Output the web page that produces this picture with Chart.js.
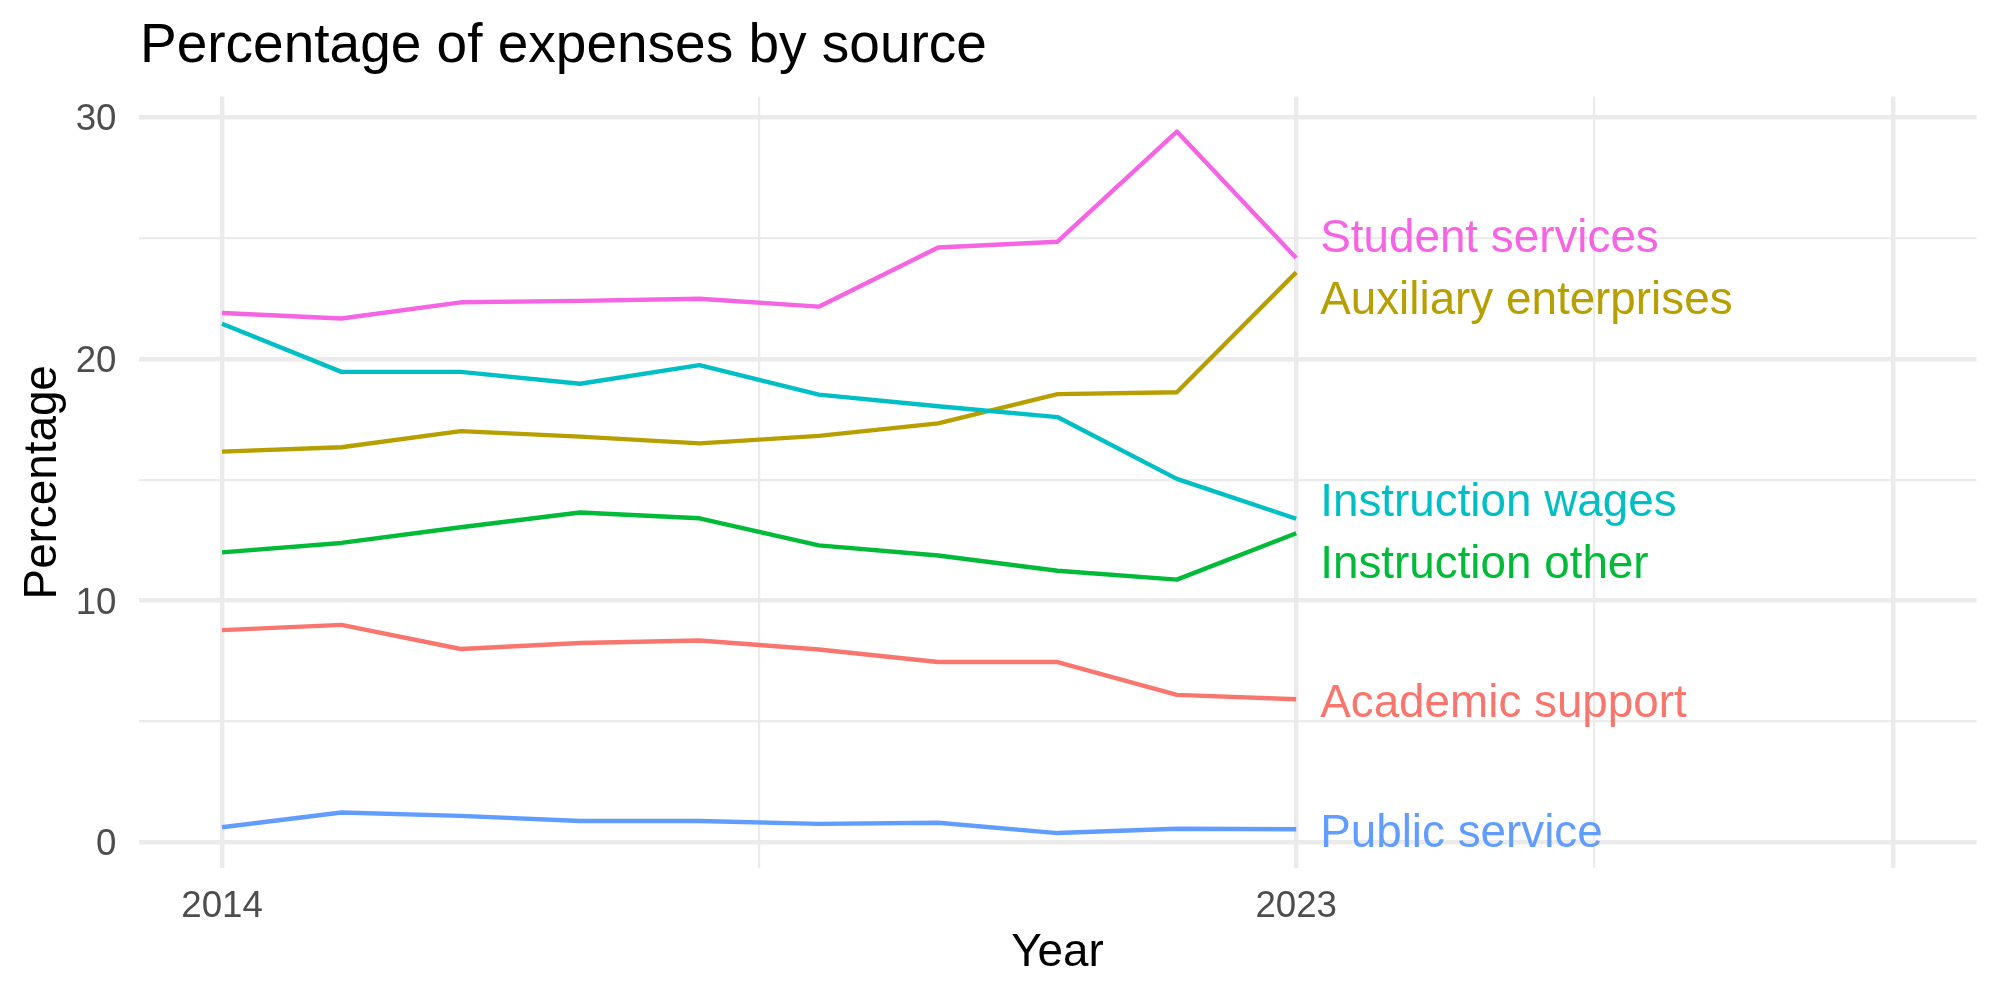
<!DOCTYPE html>
<html lang="en">
<head>
    <meta charset="UTF-8">
    <title>Percentage of expenses by source</title>
    <script src="https://cdn.jsdelivr.net/npm/chart.js"></script>
    <style>
        body {
            margin: 0;
            background: #ffffff;
        }
        .chart-box {
            width: 2000px;
            height: 1000px;
        }
    </style>
</head>
<body>
    <div class="chart-box">
        <canvas id="expenseChart" width="2000" height="1000"></canvas>
    </div>

    <script>
        // Data
        const chartTitle = 'Percentage of expenses by source';
        const years = [2014, 2015, 2016, 2017, 2018, 2019, 2020, 2021, 2022, 2023];
        const seriesNames = ['Academic support', 'Auxiliary enterprises', 'Instruction other',
                             'Instruction wages', 'Public service', 'Student services'];
        const academicSupport = [8.77, 8.99, 7.99, 8.24, 8.34, 7.97, 7.45, 7.45, 6.09, 5.91];
        const auxiliaryEnterprises = [16.16, 16.34, 17.01, 16.78, 16.50, 16.81, 17.33, 18.54, 18.62, 23.58];
        const instructionOther = [11.99, 12.38, 13.03, 13.64, 13.40, 12.28, 11.86, 11.23, 10.86, 12.78];
        const instructionWages = [21.45, 19.46, 19.46, 18.97, 19.74, 18.52, 18.04, 17.59, 15.03, 13.38];
        const publicService = [0.61, 1.22, 1.08, 0.87, 0.87, 0.75, 0.80, 0.37, 0.55, 0.53];
        const studentServices = [21.90, 21.67, 22.34, 22.40, 22.49, 22.16, 24.61, 24.85, 29.41, 24.17];
        // where each end label sits (in percentage units, after repelling)
        const labelPos = [5.87, 22.53, 11.59, 14.16, 0.48, 25.10];
        const xMajorTicks = [2014, 2023, 2028];
        const xMinorTicks = [2018.5, 2025.5];
        const xTickLabels = ['2014', '2023', ''];

        const seriesValues = [academicSupport, auxiliaryEnterprises, instructionOther,
                              instructionWages, publicService, studentServices];
        const colors = ['#F8766D', '#B79F00', '#00BA38', '#00BFC4', '#619CFF', '#F564E3'];
        const FONT = '"Liberation Sans", Arial, Helvetica, sans-serif';

        const datasets = seriesNames.map((name, i) => ({
            label: name,
            data: years.map((yr, j) => ({ x: yr, y: seriesValues[i][j] })),
            borderColor: colors[i],
            backgroundColor: colors[i],
            borderWidth: 4.4,
            borderJoinStyle: 'round',
            pointRadius: 0,
            tension: 0,
            order: seriesNames.length - i   // later groups on top, like ggplot
        }));

        // title, axis titles and end labels
        const textLayer = {
            id: 'textLayer',
            afterDraw(chart) {
                const ctx = chart.ctx;
                const area = chart.chartArea;
                const xs = chart.scales.x;
                const ys = chart.scales.y;
                ctx.save();
                ctx.textBaseline = 'alphabetic';

                ctx.fillStyle = '#000000';
                ctx.font = '55px ' + FONT;
                ctx.textAlign = 'left';
                ctx.fillText(chartTitle, 140, 62);

                ctx.font = '45.8px ' + FONT;
                ctx.textAlign = 'center';
                ctx.fillText('Year', (area.left + area.right) / 2, 966);

                ctx.save();
                ctx.translate(55.5, (area.top + area.bottom) / 2);
                ctx.rotate(-Math.PI / 2);
                ctx.fillText('Percentage', 0, 0);
                ctx.restore();

                // labels at the end of each line
                ctx.textAlign = 'left';
                const xEnd = xs.getPixelForValue(years[years.length - 1]) + 24;
                seriesNames.forEach((name, i) => {
                    ctx.fillStyle = colors[i];
                    ctx.fillText(name, xEnd, ys.getPixelForValue(labelPos[i]) + 16.4);
                });
                ctx.restore();
            }
        };

        const ctx = document.getElementById('expenseChart').getContext('2d');
        new Chart(ctx, {
            type: 'line',
            data: { datasets: datasets },
            plugins: [textLayer],
            options: {
                responsive: false,
                animation: false,
                devicePixelRatio: 1,
                layout: {
                    padding: { top: 96.5, right: 23.5, bottom: 0, left: 0 }
                },
                plugins: {
                    legend: { display: false },
                    title: { display: false },
                    tooltip: { enabled: false }
                },
                scales: {
                    x: {
                        type: 'linear',
                        min: 2013.3,
                        max: 2028.7,
                        afterBuildTicks: (scale) => {
                            scale.ticks = xMajorTicks.concat(xMinorTicks)
                                .sort((a, b) => a - b)
                                .map(v => ({ value: v }));
                        },
                        afterFit: (scale) => { scale.height = 131.9; },
                        border: { display: false },
                        grid: {
                            color: '#EBEBEB',
                            drawTicks: false,
                            lineWidth: (c) => xMajorTicks.includes(c.tick.value) ? 4.4 : 2.2
                        },
                        ticks: {
                            autoSkip: false,
                            maxRotation: 0,
                            padding: 17,
                            color: '#4D4D4D',
                            font: { family: FONT, size: 36.7 },
                            callback: (v) => {
                                const k = xMajorTicks.indexOf(v);
                                return k >= 0 ? xTickLabels[k] : '';
                            }
                        }
                    },
                    y: {
                        type: 'linear',
                        min: -1.08,
                        max: 30.86,
                        afterFit: (scale) => { scale.width = 138.5; },
                        border: { display: false },
                        grid: {
                            color: '#EBEBEB',
                            drawTicks: false,
                            lineWidth: (c) => (c.tick.value % 10 === 0) ? 4.4 : 2.2
                        },
                        ticks: {
                            stepSize: 5,
                            includeBounds: false,
                            padding: 22,
                            labelOffset: 3,
                            color: '#4D4D4D',
                            font: { family: FONT, size: 36.7 },
                            callback: (v) => (v % 10 === 0) ? String(v) : ''
                        }
                    }
                }
            }
        });
    </script>
</body>
</html>
